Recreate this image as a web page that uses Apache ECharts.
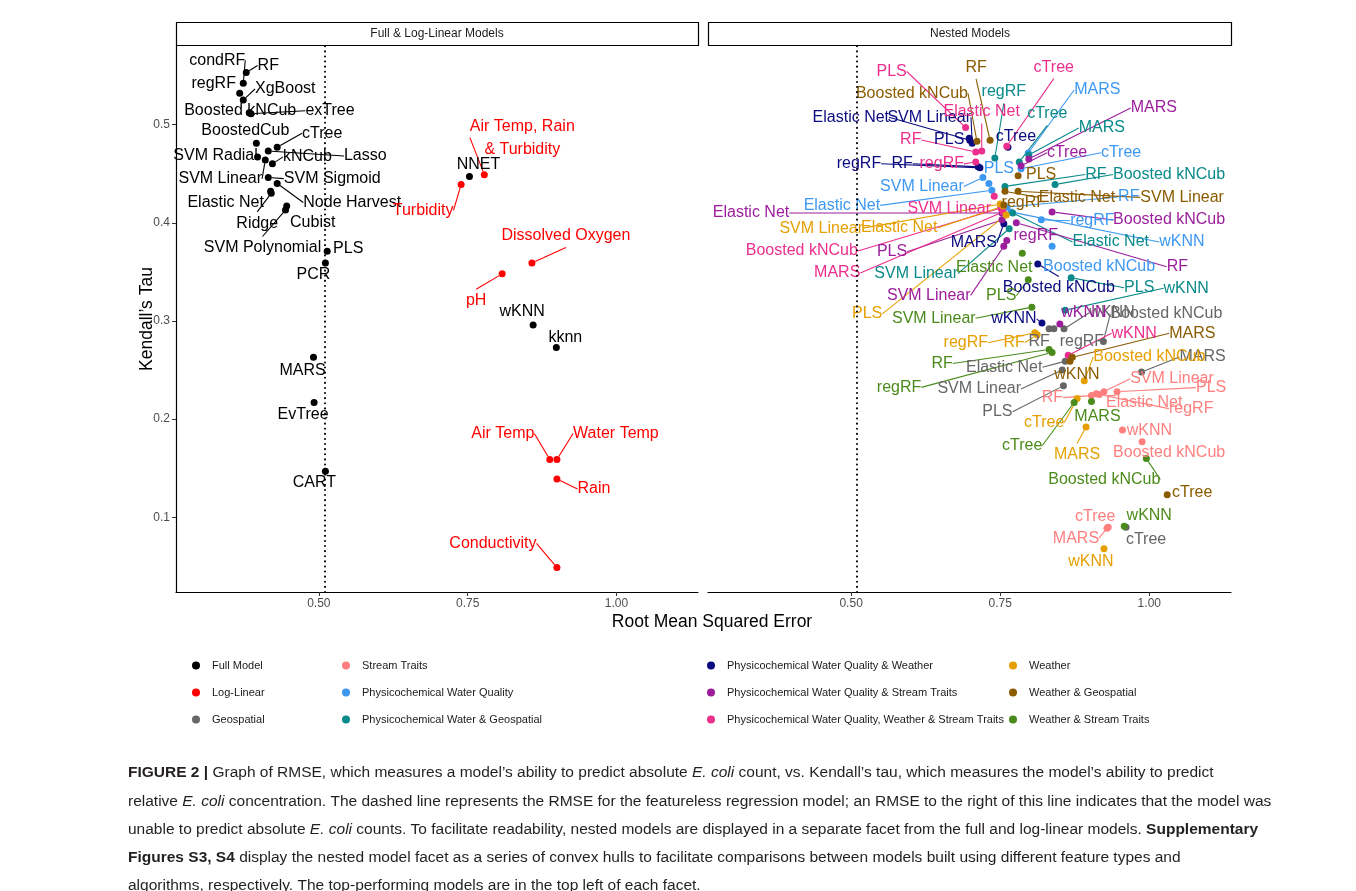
<!DOCTYPE html>
<html>
<head>
<meta charset="utf-8">
<script src="https://cdn.jsdelivr.net/npm/echarts@6/dist/echarts.min.js"></script>
<style>
html, body { margin: 0; padding: 0; background: #fff; }
#chart { width: 1356px; height: 891px; }
</style>
</head>
<body>
<div id="chart"></div>
<script>
// ---------------- data ----------------
// Full models (black)
const fullModels = ['condRF', 'RF', 'regRF', 'XgBoost', 'Boosted kNCub', 'exTree', 'BoostedCub', 'cTree', 'Lasso',
  'SVM Radial', 'kNCub', 'SVM Linear', 'SVM Sigmoid', 'Node Harvest', 'Elastic Net', 'Ridge', 'Cubist',
  'SVM Polynomial', 'PLS', 'PCR', 'MARS', 'EvTree', 'CART', 'NNET', 'wKNN', 'kknn'];
const fullRmse = [0.373, 0.378, 0.367, 0.373, 0.383, 0.386, 0.395, 0.430, 0.415,
  0.397, 0.422, 0.410, 0.415, 0.430, 0.419, 0.420, 0.446,
  0.444, 0.514, 0.511, 0.491, 0.492, 0.511, 0.753, 0.860, 0.899];
const fullTau = [0.542, 0.553, 0.532, 0.525, 0.512, 0.511, 0.481, 0.477, 0.473,
  0.467, 0.460, 0.464, 0.446, 0.440, 0.432, 0.430, 0.417,
  0.413, 0.371, 0.359, 0.263, 0.217, 0.147, 0.447, 0.296, 0.273];

// Log-linear models (red)
const logModels = ['Air Temp, Rain\n& Turbidity', 'Turbidity', 'Dissolved Oxygen', 'pH', 'Air Temp', 'Water Temp', 'Rain', 'Conductivity'];
const logRmse = [0.778, 0.739, 0.858, 0.808, 0.888, 0.900, 0.900, 0.900];
const logTau = [0.449, 0.439, 0.359, 0.348, 0.159, 0.159, 0.139, 0.049];

// Nested models: same algorithm order for every feature set
const nestedModels = ['RF', 'regRF', 'cTree', 'MARS', 'PLS', 'Elastic Net', 'SVM Linear', 'wKNN', 'Boosted kNCub'];
const geoRmse = [0.832, 0.840, 0.961, 0.987, 0.856, 0.859, 0.854, 0.857, 0.923];
const geoTau = [0.292, 0.292, 0.090, 0.248, 0.234, 0.259, 0.250, 0.292, 0.279];
const streamRmse = [0.903, 0.916, 0.931, 0.929, 0.946, 0.911, 0.924, 0.955, 0.988];
const streamTau = [0.224, 0.225, 0.090, 0.089, 0.228, 0.226, 0.228, 0.189, 0.177];
const pwqRmse = [0.761, 0.819, 0.785, 0.797, 0.731, 0.736, 0.721, 0.768, 0.837];
const pwqTau = [0.416, 0.403, 0.455, 0.471, 0.440, 0.433, 0.446, 0.411, 0.376];
const pwgRmse = [0.758, 0.741, 0.782, 0.798, 0.869, 0.771, 0.765, 0.859, 0.842];
const pwgTau = [0.437, 0.466, 0.462, 0.469, 0.344, 0.410, 0.394, 0.311, 0.439];
const pwwRmse = [0.713, 0.716, 0.763, 0.756, 0.698, 0.699, 0.703, 0.820, 0.813];
const pwwTau = [0.457, 0.456, 0.477, 0.399, 0.486, 0.484, 0.481, 0.298, 0.358];
const pwsRmse = [0.777, 0.761, 0.785, 0.798, 0.753, 0.753, 0.756, 0.850, 0.837];
const pwsTau = [0.400, 0.382, 0.458, 0.465, 0.403, 0.410, 0.376, 0.297, 0.411];
const pwwsRmse = [0.709, 0.709, 0.761, 0.755, 0.692, 0.719, 0.740, 0.864, 0.751];
const pwwsTau = [0.472, 0.462, 0.478, 0.411, 0.497, 0.473, 0.427, 0.265, 0.415];
const weatherRmse = [0.812, 0.808, 0.879, 0.894, 0.760, 0.755, 0.750, 0.924, 0.891];
const weatherTau = [0.286, 0.288, 0.221, 0.192, 0.408, 0.417, 0.419, 0.068, 0.239];
const wgRmse = [0.733, 0.756, 1.030, 0.871, 0.780, 0.758, 0.780, 0.867, 0.711];
const wgTau = [0.484, 0.418, 0.123, 0.263, 0.448, 0.432, 0.432, 0.259, 0.483];
const wsRmse = [0.832, 0.837, 0.874, 0.903, 0.797, 0.787, 0.803, 0.958, 0.995];
const wsTau = [0.271, 0.268, 0.217, 0.218, 0.342, 0.369, 0.314, 0.091, 0.160];

// RMSE of the featureless regression model (dotted reference line)
const featurelessRmse = 0.507;

// Axis ticks
const xTicks = [0.5, 0.75, 1.0];
const yTicks = [0.1, 0.2, 0.3, 0.4, 0.5];

// ---------------- label placement (pixel nudges from each point) ----------------
const fullNudge = [[-26,-23],[22,-7],[-26,-10],[42,-11],[-9,-2],[79,-3],[-11,-13],[45,-14],[97,5],
  [-42,-1],[35,-7],[-45,19],[64,1],[75,19],[-45,11],[-14,30],[26,17],
  [-23,38],[21,-3],[-12,12],[-11,13],[-11,12],[-11,11],[9,-12],[-11,-13],[9,-10]];
const logNudge = [[38,-37],[-38,26],[34,-27],[-26,27],[-47,-26],[59,-26],[37,10],[-64,-24]];
const geoNudge = [[-10,13],[28,13],[20,12],[61,-15],[-66,26],[-61,6],[-83,19],[48,-16],[63,-28]];
const streamNudge = [[-39,2],[92,14],[-13,-11],[-31,10],[94,-4],[48,9],[68,-13],[27,1],[27,11]];
const pwqNudge = [[122,-10],[51,1],[100,-16],[69,-63],[10,-15],[-150,15],[-61,9],[171,30],[47,20]];
const pwgNudge = [[91,-12],[9,-66],[28,-48],[73,-27],[68,10],[98,29],[-93,45],[121,-22],[114,-10]];
const pwwNudge = [[-76,-3],[-121,-4],[8,-11],[-30,19],[-20,1],[-119,-23],[-43,-26],[-28,-4],[21,24]];
const pwsNudge = [[161,44],[29,-5],[46,-13],[125,-51],[-110,32],[-251,0],[-75,49],[24,-11],[117,8]];
const pwwsNudge = [[-65,-12],[-34,2],[47,-79],[-166,61],[-74,-56],[0,-39],[-45,12],[66,-22],[-199,43]];
const weatherNudge = [[-23,8],[-69,10],[-33,24],[-9,28],[-139,99],[-104,22],[-179,24],[-13,13],[65,-24]];
const wgNudge = [[-14,-73],[20,-2],[25,-2],[120,-24],[23,-1],[72,6],[164,6],[7,13],[-65,-48]];
const wsNudge = [[-107,14],[-153,35],[-52,43],[6,15],[-27,16],[-28,14],[-98,11],[25,-11],[-42,21]];

const FONT = '"Liberation Sans", Arial, Helvetica, sans-serif';
const LABEL_SIZE = 16;

function buildItems(names, xs, ys, nudges) {
  return names.map((n, i) => {
    const lines = n.split('\n');
    const w = Math.max(...lines.map(l => l.length)) * LABEL_SIZE * 0.5;
    const h = lines.length * 18;
    const gx = Math.max(0, Math.abs(nudges[i][0]) - w / 2);
    const gy = Math.max(0, Math.abs(nudges[i][1]) - h / 2);
    const gap = Math.sqrt(gx * gx + gy * gy);
    return { name: n, value: [xs[i], ys[i]], labelLine: { show: gap > 11 } };
  });
}

function scatterSeries(name, color, grid, names, xs, ys, nudges, extra) {
  const s = {
    name: name,
    type: 'scatter',
    xAxisIndex: grid,
    yAxisIndex: grid,
    symbol: 'circle',
    symbolSize: 7,
    itemStyle: { color: color, opacity: 1 },
    data: buildItems(names, xs, ys, nudges),
    label: {
      show: true,
      position: 'inside',
      formatter: p => p.name,
      color: color,
      fontFamily: FONT,
      fontSize: LABEL_SIZE,
      lineHeight: 23,
      align: 'center',
      verticalAlign: 'middle'
    },
    labelLine: { show: true, lineStyle: { color: color, width: 1.1 }, length2: 0, smooth: false },
    labelLayout: p => ({ dx: nudges[p.dataIndex][0], dy: nudges[p.dataIndex][1] }),
    emphasis: { disabled: true },
    z: 3
  };
  return Object.assign(s, extra || {});
}

const refLine = {
  markLine: {
    silent: true,
    symbol: ['none', 'none'],
    label: { show: false },
    lineStyle: { color: '#000', type: [0.1, 5], width: 2, cap: 'round' },
    data: [{ xAxis: featurelessRmse }],
    animation: false
  }
};

const nestedSets = [
  ['Geospatial', '#666666', geoRmse, geoTau, geoNudge],
  ['Stream Traits', '#FF7F7F', streamRmse, streamTau, streamNudge],
  ['Physicochemical Water Quality', '#3D98F2', pwqRmse, pwqTau, pwqNudge],
  ['Physicochemical Water & Geospatial', '#0A8A8A', pwgRmse, pwgTau, pwgNudge],
  ['Physicochemical Water Quality & Weather', '#0B0B80', pwwRmse, pwwTau, pwwNudge],
  ['Physicochemical Water Quality & Stream Traits', '#9C1E9C', pwsRmse, pwsTau, pwsNudge],
  ['Physicochemical Water Quality, Weather & Stream Traits', '#EC2E8C', pwwsRmse, pwwsTau, pwwsNudge],
  ['Weather', '#E69F00', weatherRmse, weatherTau, weatherNudge],
  ['Weather & Geospatial', '#8B5B00', wgRmse, wgTau, wgNudge],
  ['Weather & Stream Traits', '#4B8B1B', wsRmse, wsTau, wsNudge]
];

const series = [
  scatterSeries('Full Model', '#000000', 0, fullModels, fullRmse, fullTau, fullNudge, refLine),
  scatterSeries('Log-Linear', '#FF0000', 0, logModels, logRmse, logTau, logNudge)
];
nestedSets.forEach((s, i) => {
  series.push(scatterSeries(s[0], s[1], 1, nestedModels, s[2], s[3], s[4], i === 0 ? refLine : null));
});

const axisCommon = {
  type: 'value',
  min: 0.26,
  max: 1.137,
  axisLine: { show: true, onZero: false, lineStyle: { color: '#000', width: 1.2 } },
  axisTick: { show: true, customValues: xTicks, length: 4, lineStyle: { color: '#333', width: 1 } },
  axisLabel: { customValues: xTicks, formatter: v => v.toFixed(2), color: '#4D4D4D', fontSize: 12, fontFamily: FONT, margin: 6 },
  splitLine: { show: false }
};
const yCommon = {
  type: 'value',
  min: 0.024,
  max: 0.58,
  splitLine: { show: false }
};

// Legend: four columns of three keys each
const legendCols = [
  ['Full Model', 'Log-Linear', 'Geospatial'],
  ['Stream Traits', 'Physicochemical Water Quality', 'Physicochemical Water & Geospatial'],
  ['Physicochemical Water Quality & Weather', 'Physicochemical Water Quality & Stream Traits', 'Physicochemical Water Quality, Weather & Stream Traits'],
  ['Weather', 'Weather & Geospatial', 'Weather & Stream Traits']
];
const legendLeft = [187, 337, 702, 1004];
const legends = legendCols.map((col, i) => ({
  data: col,
  orient: 'vertical',
  left: legendLeft[i],
  top: 655,
  itemGap: 16,
  itemWidth: 8,
  itemHeight: 8,
  icon: 'circle',
  selectedMode: false,
  textStyle: { fontFamily: FONT, fontSize: 11, color: '#1a1a1a', padding: [0, 0, 0, 7] }
}));

// Figure caption
const captionLines = [
  '{b|FIGURE 2 |} Graph of RMSE, which measures a model\u2019s ability to predict absolute {i|E. coli} count, vs. Kendall\u2019s tau, which measures the model\u2019s ability to predict',
  'relative {i|E. coli} concentration. The dashed line represents the RMSE for the featureless regression model; an RMSE to the right of this line indicates that the model was',
  'unable to predict absolute {i|E. coli} counts. To facilitate readability, nested models are displayed in a separate facet from the full and log-linear models. {b|Supplementary}',
  '{b|Figures S3, S4} display the nested model facet as a series of convex hulls to facilitate comparisons between models built using different feature types and',
  'algorithms, respectively. The top-performing models are in the top left of each facet.'
];
const capStyle = { fontFamily: FONT, fontSize: 15.5, fill: '#231F20' };
const captionGraphics = captionLines.map((t, i) => ({
  type: 'text',
  left: 128,
  top: 765 + i * 28.3,
  style: Object.assign({
    text: t,
    rich: {
      b: { fontFamily: FONT, fontSize: 15.5, fontWeight: 'bold', fill: '#231F20' },
      i: { fontFamily: FONT, fontSize: 15.5, fontStyle: 'italic', fill: '#231F20' }
    }
  }, capStyle)
}));

const chart = echarts.init(document.getElementById('chart'), null, { renderer: 'canvas' });
chart.setOption({
  animation: false,
  backgroundColor: '#fff',
  textStyle: { fontFamily: FONT },
  grid: [
    { left: 176, top: 46, width: 522, height: 546 },
    { left: 708, top: 46, width: 523, height: 546 }
  ],
  xAxis: [
    Object.assign({ gridIndex: 0 }, axisCommon),
    Object.assign({ gridIndex: 1 }, axisCommon)
  ],
  yAxis: [
    Object.assign({
      gridIndex: 0,
      axisLine: { show: true, onZero: false, lineStyle: { color: '#000', width: 1.2 } },
      axisTick: { show: true, customValues: yTicks, length: 4, lineStyle: { color: '#333', width: 1 } },
      axisLabel: { customValues: yTicks, formatter: v => v.toFixed(1), color: '#4D4D4D', fontSize: 12, fontFamily: FONT, margin: 6 }
    }, yCommon),
    Object.assign({
      gridIndex: 1,
      axisLine: { show: false },
      axisTick: { show: false },
      axisLabel: { show: false }
    }, yCommon)
  ],
  legend: legends,
  series: series,
  graphic: [
    // facet strips
    { type: 'rect', shape: { x: 176.5, y: 22.5, width: 522, height: 23 }, style: { fill: '#fff', stroke: '#000', lineWidth: 1.2 } },
    { type: 'text', x: 437, y: 34, style: { text: 'Full & Log-Linear Models', fontFamily: FONT, fontSize: 12, fill: '#1a1a1a', align: 'center', verticalAlign: 'middle' } },
    { type: 'rect', shape: { x: 708.5, y: 22.5, width: 523, height: 23 }, style: { fill: '#fff', stroke: '#000', lineWidth: 1.2 } },
    { type: 'text', x: 970, y: 34, style: { text: 'Nested Models', fontFamily: FONT, fontSize: 12, fill: '#1a1a1a', align: 'center', verticalAlign: 'middle' } },
    // axis titles
    { type: 'text', x: 712, y: 622, style: { text: 'Root Mean Squared Error', fontFamily: FONT, fontSize: 17.5, fill: '#000', align: 'center', verticalAlign: 'middle' } },
    { type: 'text', x: 147, y: 319, rotation: Math.PI / 2, style: { text: 'Kendall\u2019s Tau', fontFamily: FONT, fontSize: 17.5, fill: '#000', align: 'center', verticalAlign: 'middle' } }
  ].concat(captionGraphics)
});
</script>
</body>
</html>
